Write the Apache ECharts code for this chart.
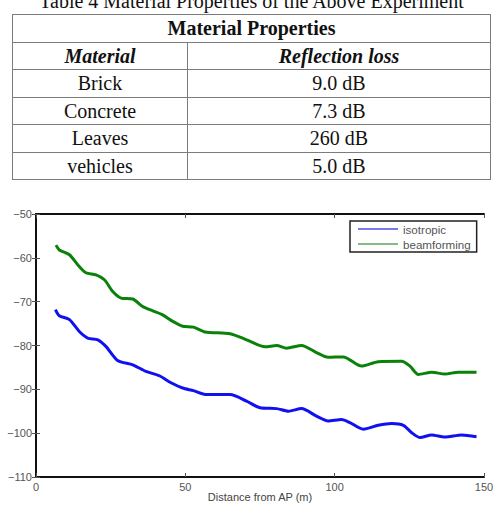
<!DOCTYPE html>
<html>
<head>
<meta charset="utf-8">
<script src="https://cdn.jsdelivr.net/npm/echarts@6/dist/echarts.min.js"></script>
<style>
  html, body { margin: 0; padding: 0; background: #fff; width: 495px; height: 505px; overflow: hidden; position: relative; }
  #title { position: absolute; left: 0; width: 503px; top: -9px; height: 20px; line-height: 20px; text-align: center;
           font-family: "Liberation Serif", "Times New Roman", serif; font-size: 20px; color: #111; white-space: nowrap; }
  #tbl { position: absolute; left: 12px; top: 14px; width: 478px; border-collapse: collapse; table-layout: fixed;
         font-family: "Liberation Serif", "Times New Roman", serif; font-size: 20px; color: #111; }
  #tbl td, #tbl th { border: 1.5px solid #7c7c7c; height: 26.5px; padding: 0; text-align: center; line-height: 20px; }
  #tbl th { font-weight: bold; }
  #tbl th.it { font-style: italic; }
  #chart { position: absolute; left: 0; top: 195px; width: 495px; height: 310px; }
</style>
</head>
<body>
<div id="title"></div>
<table id="tbl"><colgroup><col style="width:175px"><col style="width:303px"></colgroup><tbody id="tb"></tbody></table>
<div id="chart"></div>
<script>
// ---- table data ----
const tableTitle = "Table 4 Material Properties of the Above Experiment";
const tableHeader = "Material Properties";
const tableColumns = ["Material", "Reflection loss"];
const materials = ["Brick", "Concrete", "Leaves", "vehicles"];
const reflectionLoss = ["9.0 dB", "7.3 dB", "260 dB", "5.0 dB"];

// ---- chart data ----
const seriesNames = ["isotropic", "beamforming"];
const isoX = [6.5, 7.8, 11.2, 14.5, 17.3, 20.7, 23.4, 27.3, 32.4, 36.8, 41.3, 45.2, 49.1, 52.7, 57.1, 65, 70.5, 75, 80.6, 84.5, 88.9, 93.9, 97.8, 102.3, 105.1, 109.6, 114.6, 119.1, 123.0, 125.8, 128.6, 132.5, 136.9, 142.5, 147.5];
const isoY = [-71.8, -73.2, -74.1, -76.8, -78.3, -78.7, -80.2, -83.4, -84.4, -85.9, -86.9, -88.5, -89.7, -90.3, -91.2, -91.2, -92.7, -94.2, -94.4, -95.0, -94.4, -96.1, -97.2, -96.9, -97.6, -99.1, -98.2, -97.8, -98.2, -99.9, -101.0, -100.4, -100.9, -100.4, -100.8];
const beamX = [6.7, 7.8, 11.2, 14.5, 16.7, 20.1, 22.9, 25.7, 28.5, 32.4, 35.7, 39.1, 42.4, 45.8, 49.1, 52.7, 56.6, 65, 70.5, 76.7, 80.6, 83.9, 88.9, 93.9, 97.8, 102.9, 109.0, 114.6, 122.4, 125.2, 128.0, 132.5, 136.9, 141.4, 147.5];
const beamY = [-57.1, -58.2, -59.3, -62.0, -63.4, -63.9, -65.0, -67.7, -69.2, -69.4, -71.1, -72.1, -73.0, -74.5, -75.6, -75.8, -76.9, -77.3, -78.7, -80.3, -80.0, -80.6, -80.0, -81.6, -82.7, -82.6, -84.7, -83.7, -83.6, -84.7, -86.6, -86.1, -86.5, -86.1, -86.1];
const xTicks = [0, 50, 100, 150];
const yTicks = [-110, -100, -90, -80, -70, -60, -50];
const xAxisName = "Distance from AP (m)";

// build table
document.getElementById('title').textContent = tableTitle;
const tb = document.getElementById('tb');
let html = '<tr><th colspan="2">' + tableHeader + '</th></tr>';
html += '<tr><th class="it">' + tableColumns[0] + '</th><th class="it">' + tableColumns[1] + '</th></tr>';
for (let i = 0; i < materials.length; i++) {
  html += '<tr><td>' + materials[i] + '</td><td>' + reflectionLoss[i] + '</td></tr>';
}
tb.innerHTML = html;

// build chart
const zip = (xs, ys) => xs.map((x, i) => [x, ys[i]]);
const fmt = v => (v < 0 ? '\u2212' + Math.abs(v) : String(v));
const font = '"Liberation Sans", Arial, Helvetica, sans-serif';
const tickStyle = { show: true, inside: true, length: 4, lineStyle: { color: '#555', width: 1 } };
const lineAx = { show: true, lineStyle: { color: '#111', width: 2 } };

const chart = echarts.init(document.getElementById('chart'), null, { renderer: 'svg' });
chart.setOption({
  animation: false,
  backgroundColor: 'transparent',
  textStyle: { fontFamily: font },
  grid: { left: 36, right: 11, top: 19, bottom: 28, containLabel: false, outerBoundsMode: 'none' },
  legend: {
    left: 350, top: 26, orient: 'vertical',
    padding: [1, 6, 1, 8],
    borderColor: '#222', borderWidth: 1.5,
    icon: 'rect', itemWidth: 40, itemHeight: 2, itemGap: 1,
    textStyle: { fontSize: 11.6, color: '#555', fontFamily: font, lineHeight: 14 },
    data: [
      { name: seriesNames[0], itemStyle: { color: '#7a7aee' } },
      { name: seriesNames[1], itemStyle: { color: '#86bb86' } }
    ]
  },
  xAxis: [
    {
      type: 'value', min: xTicks[0], max: xTicks[xTicks.length - 1], interval: 50, position: 'bottom',
      axisLine: lineAx, axisTick: tickStyle, splitLine: { show: false },
      axisLabel: { fontSize: 11, color: '#555', margin: 4, fontFamily: font, formatter: fmt },
      name: xAxisName, nameLocation: 'middle', nameGap: 14, nameMoveOverlap: false,
      nameTextStyle: { fontSize: 11, color: '#444', fontFamily: font, lineHeight: 12, verticalAlign: 'top' }
    },
    {
      type: 'value', min: xTicks[0], max: xTicks[xTicks.length - 1], interval: 50, position: 'top',
      axisLine: lineAx, axisTick: tickStyle, splitLine: { show: false }, axisLabel: { show: false }
    }
  ],
  yAxis: [
    {
      type: 'value', min: yTicks[0], max: yTicks[yTicks.length - 1], interval: 10, position: 'left',
      axisLine: lineAx, axisTick: tickStyle, splitLine: { show: false },
      axisLabel: { fontSize: 11, color: '#555', margin: 4, fontFamily: font, formatter: fmt }
    },
    {
      type: 'value', min: yTicks[0], max: yTicks[yTicks.length - 1], interval: 10, position: 'right',
      axisLine: lineAx, axisTick: tickStyle, splitLine: { show: false }, axisLabel: { show: false }
    }
  ],
  series: [
    {
      name: seriesNames[0], type: 'line', data: zip(isoX, isoY), symbol: 'none', smooth: 0.25,
      lineStyle: { color: '#1010f0', width: 3 }, itemStyle: { color: '#1010f0' }
    },
    {
      name: seriesNames[1], type: 'line', data: zip(beamX, beamY), symbol: 'none', smooth: 0.25,
      lineStyle: { color: '#0a820a', width: 3 }, itemStyle: { color: '#0a820a' }
    }
  ]
});
</script>
</body>
</html>
